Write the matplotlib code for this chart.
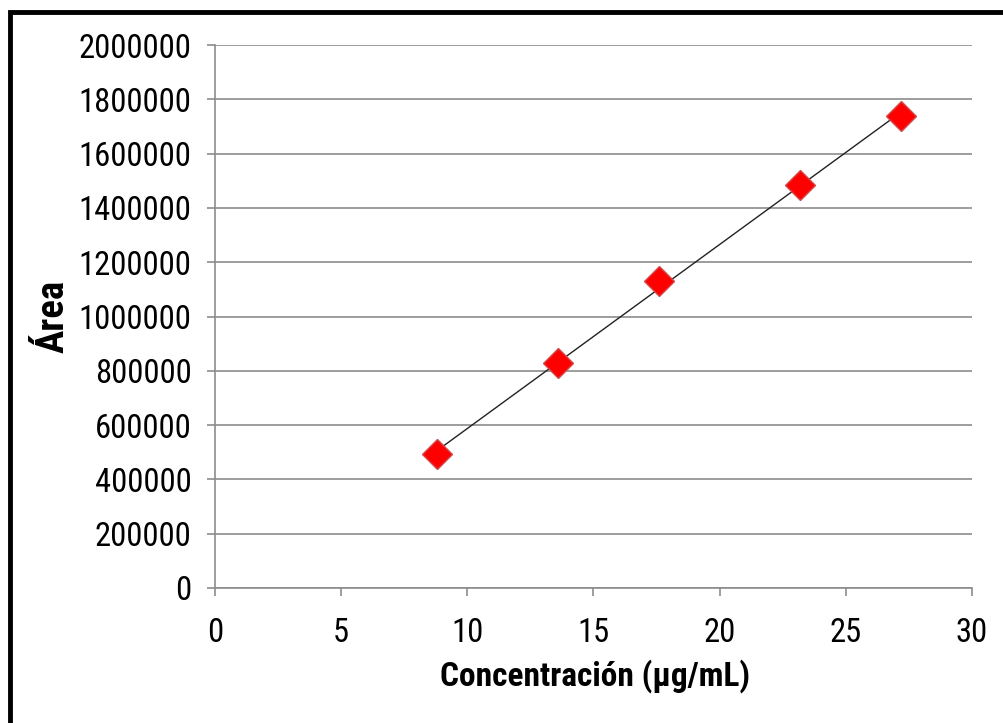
import numpy as np
import matplotlib
matplotlib.use("Agg")
import matplotlib.pyplot as plt
from matplotlib.patches import Rectangle
from matplotlib import font_manager

conc = [8.8, 13.6, 17.6, 23.2, 27.2]
area = [492000, 829000, 1132000, 1485000, 1738000]
x_ticks = [0, 5, 10, 15, 20, 25, 30]
y_ticks = [0, 200000, 400000, 600000, 800000, 1000000, 1200000, 1400000,
           1600000, 1800000, 2000000]

names = {f.name for f in font_manager.fontManager.ttflist}
narrow = None
for cand in ['Liberation Sans Narrow', 'Arial Narrow', 'Roboto Condensed',
             'Open Sans Condensed', 'DejaVu Sans Condensed', 'Noto Sans Condensed']:
    if cand in names:
        narrow = cand
        break
if narrow is not None:
    fam = [narrow, 'DejaVu Sans']
    fs = 23.5
    xl_fs = 24
    yl_fs = 28
else:
    fam = ['Liberation Sans', 'DejaVu Sans']
    fs = 20.5
    xl_fs = 21
    yl_fs = 24
plt.rcParams['font.family'] = fam

fig = plt.figure(figsize=(10.04, 7.23), dpi=100)
ax = fig.add_axes([215/1004, 1-588/723, (972-215)/1004, (588-45)/723])

grid_c = '#8c8c8c'
for y in y_ticks:
    ax.axhline(y, color=grid_c, lw=1.2, zorder=1)

coef = np.polyfit(conc, area, 1)
xs = np.array([min(conc), max(conc)])
ax.plot(xs, np.polyval(coef, xs), color='#222222', lw=1.0, zorder=2)
ax.plot(conc, area, linestyle='none', marker='D', ms=15, mfc='#ff0000',
        mec='#d24a4a', mew=1.0, zorder=3)

ax.set_xlim(0, 30)
ax.set_ylim(0, 2000000)
ax.set_xticks(x_ticks)
ax.set_yticks(y_ticks)
ax.set_xticklabels([str(v) for v in x_ticks])
ax.set_yticklabels([str(v) for v in y_ticks])
for s in ['top', 'right']:
    ax.spines[s].set_visible(False)
for s in ['left', 'bottom']:
    ax.spines[s].set_color(grid_c)
    ax.spines[s].set_linewidth(1.2)
ax.tick_params(axis='both', direction='out', length=6, width=1.2, color=grid_c,
               labelsize=fs, labelcolor='black')
ax.tick_params(axis='x', pad=15)
ax.tick_params(axis='y', pad=11)

ax.set_xlabel('Concentración (µg/mL)', fontsize=xl_fs, fontweight='bold')
ax.set_ylabel('Área', fontsize=yl_fs, fontweight='bold')
ax.xaxis.set_label_coords((595-215)/757, (588-676)/543)
ax.yaxis.set_label_coords((53-215)/757, (588-316)/543)
ax.xaxis.label.set_va('center')
ax.yaxis.label.set_va('center')

fig.patches.append(Rectangle((10/1004, -0.1), 1.2, (1 - 12/723) + 0.1,
                             transform=fig.transFigure, fill=False,
                             edgecolor='black', lw=3.5, zorder=10))

fig.savefig('out.png', dpi=100)
